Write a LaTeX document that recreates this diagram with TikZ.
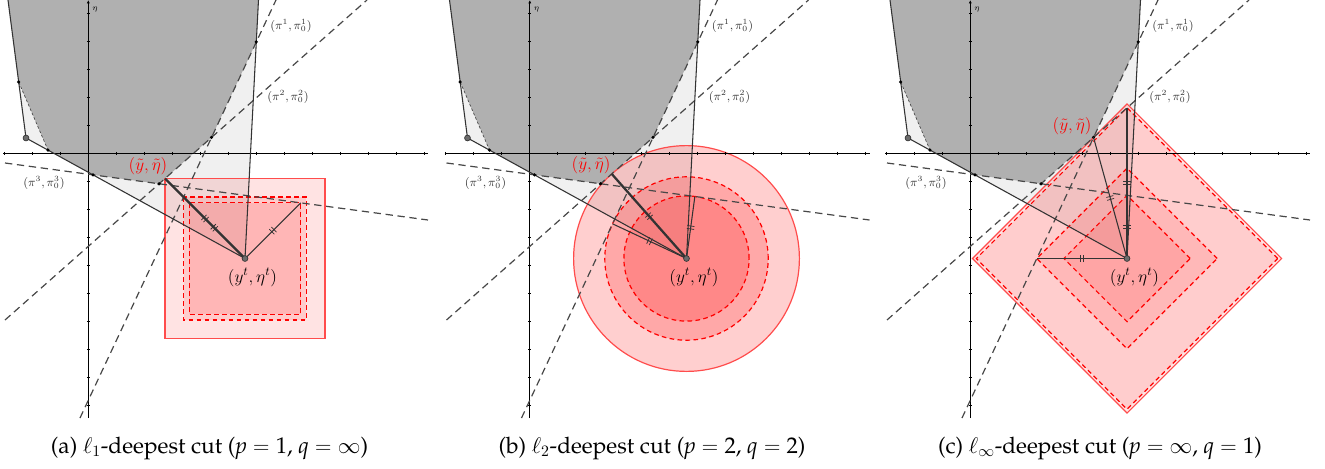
\RequirePackage{fix-cm}
\documentclass[tikz,border=0pt]{standalone}
\usepackage[T1,TU]{fontenc}
\usetikzlibrary{decorations.markings,arrows.meta}
\definecolor{darkreg}{HTML}{B0B0B0}
\definecolor{lightreg}{HTML}{F0F0F0}
\definecolor{lin}{HTML}{333333}
\definecolor{dsh}{HTML}{474747}
\newcommand{\capfont}{\fontencoding{T1}\fontfamily{ppl}\fontsize{17}{20}\selectfont}
\tikzset{
  solidln/.style={draw=lin, line width=0.8pt},
  thickln/.style={draw=lin, line width=1.7pt},
  cutln/.style={draw=dsh, line width=0.9pt, dash pattern=on 5.5pt off 3.5pt},
  bnddash/.style={draw=dsh, line width=0.5pt, dash pattern=on 2pt off 1.6pt},
  axisln/.style={draw=black, line width=0.8pt},
  balls/.style={draw=red!70, line width=0.9pt, fill=red, fill opacity=#1},
  balld/.style={draw=red, line width=0.9pt, dash pattern=on 3.5pt off 2.5pt, fill=red, fill opacity=#1},
  dtick/.style={postaction={decorate,decoration={markings,mark=at position 0.5 with {\draw[line width=0.55pt,solid,lin] (-1.1pt,-2.7pt)--(-1.1pt,2.7pt) (1.1pt,-2.7pt)--(1.1pt,2.7pt);}}}},
  smalldot/.style={fill=black},
  bigdot/.style={fill=gray!85!black, draw=lin, line width=0.5pt},
  piLab/.style={font=\fontsize{9}{10}\selectfont, text=lin, inner sep=0pt},
  ptLab/.style={font=\fontsize{13}{15}\selectfont, inner sep=0pt},
  capLab/.style={font=\capfont, inner sep=0pt},
}
\newcommand{\panelfills}[1]{%
  \coordinate (#1O) at (88.3,153.3);
  \coordinate (#1T1) at (8,0);
  \coordinate (#1V1) at (18.7,82);
  \coordinate (#1P0) at (26,138);
  \coordinate (#1V2) at (48,150.1);
  \coordinate (#1V3) at (93,174.9);
  \coordinate (#1V4) at (159.1,183.8);
  \coordinate (#1V5) at (211.5,137.4);
  \coordinate (#1V6) at (256.3,41.9);
  \coordinate (#1T2) at (258.5,0);
  \coordinate (#1Yt) at (245,258.5);
  \coordinate (#1p1a) at (80,418);
  \coordinate (#1p1b) at (276,0);
  \coordinate (#1p2a) at (5,320);
  \coordinate (#1p2b) at (367,0);
  \coordinate (#1p3a) at (5,163);
  \coordinate (#1p3b) at (428,220);
  \coordinate (#1xl) at (3,153.3);
  \coordinate (#1xr) at (428,153.3);
  \coordinate (#1yb) at (88.3,418);
  \coordinate (#1yt) at (88.3,0);
  \fill[lightreg] (#1T1) -- (#1P0) -- (#1Yt) -- (#1T2) -- cycle;
  \fill[darkreg] (#1T1) -- (#1V1) -- (#1V2) -- (#1V3) -- (#1V4) -- (#1V5) -- (#1V6) -- (#1T2) -- cycle;
}
\newcommand{\panellines}[1]{%
  \draw[axisln] (#1xl) -- (#1xr);
  \draw[axisln, -{Latex[length=2.5pt,width=2.2pt]}] (#1yb) -- (#1yt);
  \foreach \k in {-3,...,-1,1,2,...,12} \draw[line width=0.5pt] (88.3+28*\k,151.8) -- ++(0,3);
  \foreach \k in {-5,...,-1,1,2,...,9} \draw[line width=0.5pt] (86.8,153.3+28*\k) -- ++(3,0);
  \node[font=\fontsize{6}{7}\selectfont, inner sep=0pt] (#1eta) at (95,10) {$\eta$};
  \draw[cutln] (#1p1a) -- (#1p1b);
  \draw[cutln] (#1p2a) -- (#1p2b);
  \draw[cutln] (#1p3a) -- (#1p3b);
  \draw[bnddash] (#1V1) -- (#1V2);
  \draw[solidln] (#1T1) -- (#1P0) -- (#1Yt) -- (#1T2);
  \foreach \v in {V1,V2,V3,V4,V5,V6} \fill[smalldot] (#1\v) circle (1.3pt);
  \node[piLab] (#1l1) at (291,26) {$(\pi^1,\pi^1_0)$};
  \node[piLab] (#1l2) at (288,97) {$(\pi^2,\pi^2_0)$};
  \node[piLab] (#1l3) at (44,183) {$(\pi^3,\pi^3_0)$};
}
\newcommand{\panelpoints}[1]{%
  \filldraw[bigdot] (#1P0) circle (2.2pt);
  \filldraw[bigdot] (#1Yt) circle (2.2pt);
  \node[ptLab] (#1ylab) at (252.5,277.5) {$(y^t,\eta^t)$};
}
\begin{document}
\begin{tikzpicture}[x=0.75pt,y=-0.75pt]
\useasboundingbox (0,0) rectangle (1325,468);
\fill[white] (0,0) rectangle (1325,468);
% ---------------- panel (a)
\begin{scope}
  \panelfills{a}
  \draw[balls=0.11] (165,178.5) rectangle (325,338.5);
  \draw[balld=0.1] (183.58,197.08) rectangle (306.42,319.92);
  \draw[balld=0.1] (189.35,202.85) rectangle (300.65,314.15);
  \panellines{a}
  \coordinate (ayy) at (165,178.5);
  \coordinate (af1) at (183.58,197.08);
  \coordinate (af3) at (300.65,202.85);
  \draw[thickln,dtick] (ayy) -- (aYt);
  \draw[solidln,dtick] (af1) -- (aYt);
  \draw[solidln,dtick] (af3) -- (aYt);
  \panelpoints{a}
  \node[ptLab,text=red] (aylab) at (148,166) {$(\tilde y,\tilde\eta)$};
  \node[capLab] (capa) at (209.5,448) {(a)\ \(\ell_1\)-deepest cut (\textit{p}\({}={}\)1, \textit{q}\({}={}\infty\))};
\end{scope}
% ---------------- panel (b)
\begin{scope}[shift={(441.5,0)}]
  \panelfills{b}
  \draw[balls=0.19] (bYt) circle (112.9*0.75pt);
  \draw[balld=0.19] (bYt) circle (81.7*0.75pt);
  \draw[balld=0.19] (bYt) circle (62.6*0.75pt);
  \panellines{b}
  \coordinate (byy) at (170.24,173.93);
  \coordinate (bf1) at (171.04,223.82);
  \coordinate (bf3) at (253.36,196.48);
  \draw[thickln,dtick] (byy) -- (bYt);
  \draw[solidln,dtick] (bf1) -- (bYt);
  \draw[solidln,dtick] (bf3) -- (bYt);
  \panelpoints{b}
  \node[ptLab,text=red] (bylab) at (149.5,165) {$(\tilde y,\tilde\eta)$};
  \node[capLab] (capb) at (210.5,448) {(b)\ \(\ell_2\)-deepest cut (\textit{p}\({}={}\)2, \textit{q}\({}={}\)2)};
\end{scope}
% ---------------- panel (c)
\begin{scope}[shift={(882,0)}]
  \panelfills{c}
  \draw[balls=0.1] (399.6,258.5) -- (245,103.9) -- (90.4,258.5) -- (245,413.1) -- cycle;
  \draw[balld=0.1] (395.66,258.5) -- (245,107.84) -- (94.34,258.5) -- (245,409.16) -- cycle;
  \draw[balld=0.1] (335.22,258.5) -- (245,168.28) -- (154.78,258.5) -- (245,348.72) -- cycle;
  \draw[balld=0.1] (308.15,258.5) -- (245,195.35) -- (181.85,258.5) -- (245,321.65) -- cycle;
  \panellines{c}
  \coordinate (cf2) at (245,107.84);
  \coordinate (cf1) at (154.78,258.5);
  \coordinate (cf3) at (245,195.35);
  \draw[solidln,dtick] (cV5) -- (cYt);
  \draw[solidln,dtick] (cf2) -- (cYt);
  \draw[solidln,dtick] (cf3) -- (cYt);
  \draw[solidln,dtick] (cf1) -- (cYt);
  \panelpoints{c}
  \node[ptLab,text=red] (cylab) at (190,126.5) {$(\tilde y,\tilde\eta)$};
  \node[capLab] (capc) at (218,448) {(c)\ \(\ell_\infty\)-deepest cut (\textit{p}\({}={}\infty\), \textit{q}\({}={}\)1)};
\end{scope}
\end{tikzpicture}
\end{document}
